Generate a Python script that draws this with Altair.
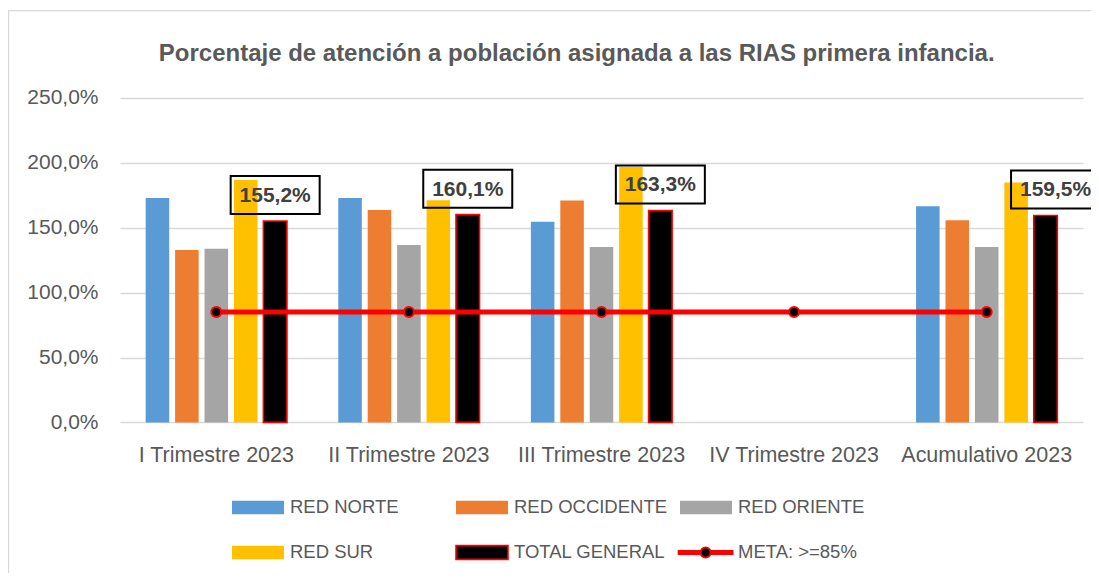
import altair as alt
import pandas as pd

# ---------------- data ----------------
periodos = ["I Trimestre 2023", "II Trimestre 2023", "III Trimestre 2023",
            "IV Trimestre 2023", "Acumulativo 2023"]
series = ["RED NORTE", "RED OCCIDENTE", "RED ORIENTE", "RED SUR", "TOTAL GENERAL"]
red_norte = [173.0, 173.0, 154.7, None, 166.6]
red_occidente = [132.8, 163.7, 171.0, None, 155.8]
red_oriente = [133.9, 136.7, 135.2, None, 135.2]
red_sur = [186.9, 171.2, 196.9, None, 184.9]
total_general = [155.2, 160.1, 163.3, None, 159.5]
meta = [85, 85, 85, 85, 85]
meta_label = "META: >=85%"
y_ticks = [0, 50, 100, 150, 200, 250]
titulo = "Porcentaje de atención a población asignada a las RIAS primera infancia."

# ---------------- style ----------------
colores = ["#5B9BD5", "#ED7D31", "#A5A5A5", "#FFC000", "#000000"]
ROJO = "#FF0000"
GRIS_TXT = "#595959"
GRID = "#D9D9D9"
FONT = "Liberation Sans"
W, H = 963, 324.4
PAD_IN, PAD_OUT = 0.236, 0.118
OFF_IN, OFF_OUT = 0.2, 0.1

valores = [red_norte, red_occidente, red_oriente, red_sur, total_general]
rows = []
for s, vals in zip(series, valores):
    for p, v in zip(periodos, vals):
        if v is not None:
            rows.append({"periodo": p, "serie": s, "valor": v})
bars_df = pd.DataFrame(rows)
total_df = bars_df[bars_df["serie"] == "TOTAL GENERAL"].copy()
meta_df = pd.DataFrame({"periodo": periodos, "valor": meta})

# pixel offset of the TOTAL bar centre from the group centre
step = W / (len(periodos) - PAD_IN + 2 * PAD_OUT)
band = step * (1 - PAD_IN)
ostep = band / (len(series) - OFF_IN + 2 * OFF_OUT)
tot_off = ostep * (len(series) - 1) / 2

x_scale = alt.Scale(domain=periodos, paddingInner=PAD_IN, paddingOuter=PAD_OUT)
xo_scale = alt.Scale(domain=series, paddingInner=OFF_IN, paddingOuter=OFF_OUT)
y_scale = alt.Scale(domain=[0, 250], nice=False)
color_scale = alt.Scale(domain=series, range=colores)

x_enc = alt.X("periodo:N", scale=x_scale, sort=periodos, title=None,
              axis=alt.Axis(labelAngle=0, ticks=False, domain=False, grid=False,
                            labelFontSize=21.5, labelFont=FONT, labelColor=GRIS_TXT,
                            labelPadding=22, labelBaseline="top"))
y_enc = alt.Y("valor:Q", scale=y_scale, title=None,
              axis=alt.Axis(values=y_ticks, ticks=False, domain=False, grid=True,
                            gridColor=GRID, gridWidth=1.4,
                            labelExpr="replace(format(datum.value, '.1f'), '.', ',') + '%'",
                            labelFontSize=21, labelFont=FONT, labelColor=GRIS_TXT,
                            labelPadding=22))

one = pd.DataFrame({"t": [titulo]})
border = alt.Chart(one).mark_rect(
    fillOpacity=0, stroke=GRID, strokeWidth=1.3
).encode(x=alt.value(-111.5), x2=alt.value(1200), y=alt.value(-87.3), y2=alt.value(800))

title_txt = alt.Chart(one).mark_text(
    font=FONT, fontSize=24, fontWeight="bold", color=GRIS_TXT,
    align="center", baseline="alphabetic"
).encode(x=alt.value(456.7), y=alt.value(-37.3), text="t:N")

bars = alt.Chart(bars_df).mark_bar(strokeWidth=1.6).encode(
    x=x_enc,
    xOffset=alt.XOffset("serie:N", scale=xo_scale, sort=series),
    y=y_enc,
    color=alt.Color("serie:N", scale=color_scale, legend=None),
    stroke=alt.condition("datum.serie === 'TOTAL GENERAL'", alt.value(ROJO), alt.value("transparent")),
)

meta_line = alt.Chart(meta_df).mark_line(color=ROJO, strokeWidth=5).encode(
    x=alt.X("periodo:N", scale=x_scale, sort=periodos), y=alt.Y("valor:Q", scale=y_scale))
meta_pts = alt.Chart(meta_df).mark_point(
    filled=True, fill="black", stroke=ROJO, strokeWidth=2, size=100, opacity=1
).encode(x=alt.X("periodo:N", scale=x_scale, sort=periodos), y=alt.Y("valor:Q", scale=y_scale))

xoff_expr = {"expr": f"datum.periodo === 'Acumulativo 2023' ? {tot_off + 10} : {tot_off}"}
box_path = "M-1,-0.427H1V0.427H-1Z"
label_box = alt.Chart(total_df).mark_point(
    shape=box_path, size=89 ** 2, filled=False, stroke="black", strokeWidth=2,
    opacity=1, yOffset=-26, xOffset=xoff_expr
).encode(x=alt.X("periodo:N", scale=x_scale, sort=periodos), y=alt.Y("valor:Q", scale=y_scale))
label_txt = alt.Chart(total_df).transform_calculate(
    lab="replace(format(datum.valor, '.1f'), '.', ',') + '%'"
).mark_text(
    font=FONT, fontSize=21, fontWeight="bold", color="#404040", baseline="middle",
    yOffset=-25, xOffset=xoff_expr
).encode(x=alt.X("periodo:N", scale=x_scale, sort=periodos),
         y=alt.Y("valor:Q", scale=y_scale), text="lab:N")

# ---------------- legend ----------------
leg_labels = series + [meta_label]
leg_df = pd.DataFrame({"label": leg_labels, "idx": list(range(len(leg_labels)))})
leg_df["col"] = leg_df["idx"] % 3
leg_df["row"] = leg_df["idx"] // 3
leg_df["sx"] = 138 + 224 * leg_df["col"]
leg_df["tx"] = 170 + 224 * leg_df["col"]
leg_df["ty"] = 409.5 + 45 * leg_df["row"]
leg_bar_df = leg_df[leg_df["label"].isin(series)]
leg_meta_df = leg_df[leg_df["label"] == meta_label]

leg_sym = alt.Chart(leg_bar_df).mark_point(
    shape="M-1,-0.263H1V0.263H-1Z", size=52 ** 2, filled=True, opacity=1, strokeWidth=1.6
).encode(
    x=alt.X("sx:Q", scale=None, axis=None),
    y=alt.Y("ty:Q", scale=None, axis=None),
    fill=alt.Fill("label:N", scale=color_scale, legend=None),
    stroke=alt.condition("datum.label === 'TOTAL GENERAL'", alt.value(ROJO), alt.value("transparent")),
)
leg_txt = alt.Chart(leg_df).mark_text(
    font=FONT, fontSize=18.5, color=GRIS_TXT, align="left", baseline="middle"
).encode(x=alt.X("tx:Q", scale=None, axis=None), y=alt.Y("ty:Q", scale=None, axis=None),
         text="label:N")
leg_meta_line = alt.Chart(leg_meta_df).mark_rule(color=ROJO, strokeWidth=5).encode(
    x=alt.value(557.7), x2=alt.value(613.5), y=alt.Y("ty:Q", scale=None, axis=None))
leg_meta_pt = alt.Chart(leg_meta_df).mark_point(
    filled=True, fill="black", stroke=ROJO, strokeWidth=2, size=100, opacity=1
).encode(x=alt.value(585.6), y=alt.Y("ty:Q", scale=None, axis=None))

chart = alt.layer(
    border, title_txt, bars, meta_line, meta_pts, label_box, label_txt,
    leg_sym, leg_txt, leg_meta_line, leg_meta_pt
).properties(
    width=W, height=H,
    autosize=alt.AutoSizeParams(type="none"),
    padding={"left": 112, "top": 90, "right": 8, "bottom": 151},
    background="white",
).configure_view(stroke=None)

chart.save("out.html", embed_options={"renderer": "svg", "actions": False})
